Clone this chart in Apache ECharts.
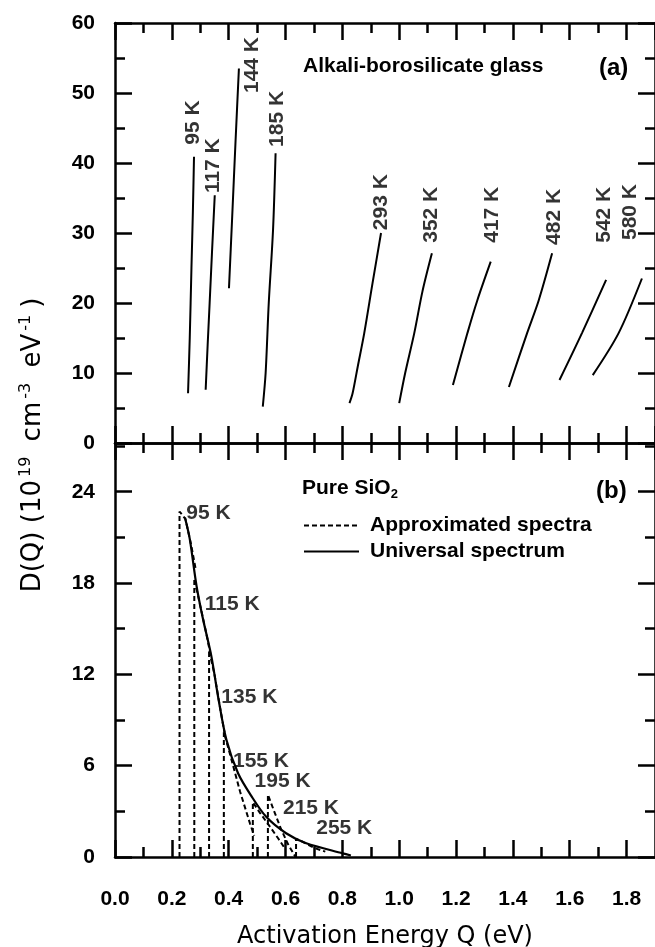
<!DOCTYPE html>
<html>
<head>
<meta charset="utf-8">
<script src="https://cdn.jsdelivr.net/npm/echarts@6/dist/echarts.min.js"></script>
<style>
  html, body { margin: 0; padding: 0; background: #fff; }
  #main { width: 655px; height: 947px; }
</style>
</head>
<body>
<div id="main"></div>
<script>
// ---- data ----
// panel (a): alkali-borosilicate glass, [Q (eV), D(Q)]
var tempsA = ['95 K', '117 K', '144 K', '185 K', '293 K', '352 K', '417 K', '482 K', '542 K', '580 K'];
var a95  = [[0.257, 7.1], [0.263, 15], [0.269, 25], [0.274, 33], [0.278, 40.9]];
var a117 = [[0.319, 7.6], [0.326, 14], [0.333, 20], [0.341, 27], [0.351, 35.4]];
var a144 = [[0.401, 22.1], [0.412, 32], [0.424, 43], [0.436, 53.5]];
var a185 = [[0.520, 5.2], [0.530, 10], [0.541, 20], [0.556, 30.4], [0.565, 41.4]];
var a293 = [[0.825, 5.7], [0.836, 7.1], [0.854, 10.9], [0.877, 15.7], [0.906, 22.8], [0.936, 30]];
var a352 = [[1.0, 5.7], [1.021, 10], [1.053, 15.7], [1.082, 21.7], [1.115, 27.1]];
var a417 = [[1.189, 8.3], [1.240, 15.7], [1.275, 20.4], [1.322, 25.9]];
var a482 = [[1.386, 8], [1.450, 15.7], [1.491, 20.4], [1.538, 27.1]];
var a542 = [[1.564, 9], [1.643, 15.7], [1.728, 23.3]];
var a580 = [[1.681, 9.7], [1.772, 15.7], [1.854, 23.5]];
var curvesA = [a95, a117, a144, a185, a293, a352, a417, a482, a542, a580];
// where each rotated temperature label starts
var labelAtA = [[0.274, 42.6], [0.344, 35.7], [0.484, 50], [0.572, 42.3], [0.936, 30.4],
                [1.111, 28.6], [1.327, 28.6], [1.544, 28.3], [1.723, 28.6], [1.813, 29]];

// panel (b): pure SiO2
var universal = [[0.246, 22.3], [0.263, 20.9], [0.287, 17.8], [0.310, 15.6], [0.339, 13.2],
                 [0.363, 10.5], [0.392, 7.7], [0.433, 5.5], [0.480, 4.0], [0.532, 2.64],
                 [0.602, 1.56], [0.673, 0.9], [0.801, 0.24], [0.83, 0.1]];
var tempsB = ['95 K', '115 K', '135 K', '155 K', '195 K', '215 K', '255 K'];
var b95  = [[0.227, 0], [0.227, 22.7], [0.248, 22.2], [0.268, 20.5], [0.283, 19.0]];
var b115 = [[0.279, 0], [0.279, 18.3], [0.300, 16.5], [0.320, 14.8], [0.335, 13.4]];
var b135 = [[0.331, 0], [0.331, 13.6], [0.350, 12.0], [0.368, 10.0], [0.385, 8.2]];
var b155 = [[0.383, 0], [0.383, 8.2], [0.404, 6.8], [0.440, 4.3], [0.475, 2.2], [0.49, 1.4]];
var b195 = [[0.485, 0], [0.485, 3.6], [0.51, 2.9], [0.545, 2.0], [0.575, 1.2], [0.60, 0.5]];
var b215 = [[0.538, 0], [0.538, 4.1], [0.558, 3.1], [0.585, 1.8], [0.610, 0.8], [0.635, 0]];
var b255 = [[0.637, 0], [0.637, 1.2], [0.66, 1.0], [0.70, 0.6], [0.74, 0.35]];
var approx = [b95, b115, b135, b155, b195, b215, b255];
var labelAtB = [[0.251, 22.6], [0.316, 16.6], [0.374, 10.5], [0.415, 6.3], [0.491, 4.95], [0.591, 3.2], [0.708, 1.9]];

// axis ranges / ticks
var qMax = 1.9, qStep = 0.2;
var aMax = 60, aStep = 10;
var bMax = 27.2, bStep = 6;

// ---- chart ----
var FONT = 'Liberation Sans';
var NAMEFONT = 'DejaVu Sans';
var chart = echarts.init(document.getElementById('main'));

function minorValues(max, step) {
  var out = [];
  for (var v = step / 2; v < max - 1e-6; v += step) out.push(Math.round(v * 1000) / 1000);
  return out;
}

// one major + one minor axis on a given side of a grid
function axisPair(grid, pos, max, step, withLabels, extra) {
  var major = {
    type: 'value', gridIndex: grid, position: pos, min: 0, max: max, interval: step,
    splitLine: { show: false },
    axisLine: { show: true, onZero: false, lineStyle: { color: '#000', width: 2.5 } },
    axisTick: { show: true, inside: true, length: 17, lineStyle: { color: '#000', width: 2.5 } },
    axisLabel: {
      show: withLabels, color: '#000', fontFamily: FONT, fontWeight: 'bold', fontSize: 21,
      formatter: function (v) { return pos === 'bottom' ? v.toFixed(1) : String(v); }
    }
  };
  if (extra) Object.assign(major, extra);
  var minor = {
    type: 'value', gridIndex: grid, position: pos, min: 0, max: max, interval: step / 2,
    splitLine: { show: false },
    axisLine: { show: false, onZero: false },
    axisTick: { show: true, inside: true, length: 10, customValues: minorValues(max, step),
                lineStyle: { color: '#000', width: 2.5 } },
    axisLabel: { show: false }
  };
  return [major, minor];
}

var xAxes = [].concat(
  axisPair(0, 'bottom', qMax, qStep, false),
  axisPair(0, 'top', qMax, qStep, false),
  axisPair(1, 'bottom', qMax, qStep, true, {
    name: 'Activation Energy Q (eV)', nameLocation: 'middle', nameGap: 68,
    nameTextStyle: { color: '#000', fontFamily: NAMEFONT, fontSize: 24 }
  }),
  axisPair(1, 'top', qMax, qStep, false)
);
xAxes[4].axisLabel.margin = 32;
var yAxes = [].concat(
  axisPair(0, 'left', aMax, aStep, true),
  axisPair(0, 'right', aMax, aStep, false),
  axisPair(1, 'left', bMax, bStep, true),
  axisPair(1, 'right', bMax, bStep, false)
);
yAxes[0].axisLabel.margin = 20;
yAxes[4].axisLabel.margin = 20;
yAxes[4].axisLabel.showMaxLabel = false;

var series = [];
curvesA.forEach(function (c, i) {
  series.push({
    type: 'line', name: tempsA[i], xAxisIndex: 0, yAxisIndex: 0, data: c,
    smooth: 0.3, showSymbol: false, symbol: 'none',
    itemStyle: { color: '#000' }, lineStyle: { color: '#000', width: 2 }, silent: true
  });
});
series.push({
  type: 'scatter', xAxisIndex: 0, yAxisIndex: 0, symbolSize: 0, silent: true,
  data: labelAtA.map(function (p, i) { return { value: p, name: tempsA[i] }; }),
  label: {
    show: true, position: 'inside', rotate: 90, align: 'left', verticalAlign: 'middle',
    formatter: '{b}', color: '#000', fontFamily: FONT, fontWeight: 'bold', fontSize: 21
  }
});
approx.forEach(function (c) {
  series.push({
    type: 'line', name: 'Approximated spectra', xAxisIndex: 4, yAxisIndex: 4, data: c,
    showSymbol: false, symbol: 'none', silent: true, itemStyle: { color: '#000' },
    lineStyle: { color: '#000', width: 2, type: [5, 3] }
  });
});
series.push({
  type: 'line', name: 'Universal spectrum', xAxisIndex: 4, yAxisIndex: 4, data: universal,
  smooth: 0.3, showSymbol: false, symbol: 'none', silent: true, z: 5,
  itemStyle: { color: '#000' }, lineStyle: { color: '#000', width: 2.2 }
});
series.push({
  type: 'scatter', xAxisIndex: 4, yAxisIndex: 4, symbolSize: 0, silent: true,
  data: labelAtB.map(function (p, i) { return { value: p, name: tempsB[i] }; }),
  label: {
    show: true, position: 'inside', align: 'left', verticalAlign: 'middle',
    formatter: '{b}', color: '#000', fontFamily: FONT, fontWeight: 'bold', fontSize: 21
  }
});

var txt = { fill: '#000', fontFamily: FONT, fontWeight: 'bold', fontSize: 21 };

chart.setOption({
  backgroundColor: '#fff',
  animation: false,
  grid: [
    { left: 115, top: 23, width: 540, height: 420, containLabel: false, outerBoundsMode: 'none' },
    { left: 115, top: 443, width: 540, height: 414, containLabel: false, outerBoundsMode: 'none' }
  ],
  xAxis: xAxes,
  yAxis: yAxes,
  legend: {
    left: 298, top: 510, orient: 'vertical', itemWidth: 55, itemHeight: 12, itemGap: 5,
    data: ['Approximated spectra', 'Universal spectrum'],
    itemStyle: { opacity: 0 },
    textStyle: { color: '#000', fontFamily: FONT, fontWeight: 'bold', fontSize: 21, padding: [0, 0, 0, 6] },
    selectedMode: false
  },
  graphic: [
    { type: 'text', left: 303, top: 56, style: Object.assign({ text: 'Alkali-borosilicate glass' }, txt) },
    { type: 'text', left: 599, top: 56, style: Object.assign({}, txt, { text: '(a)', fontSize: 24 }) },
    { type: 'text', left: 596, top: 479, style: Object.assign({}, txt, { text: '(b)', fontSize: 24 }) },
    { type: 'text', left: 302, top: 478, style: {
        text: '{b|Pure SiO}{s|2}', fill: '#000',
        rich: {
          b: { fontFamily: FONT, fontWeight: 'bold', fontSize: 21, lineHeight: 24 },
          s: { fontFamily: FONT, fontWeight: 'bold', fontSize: 13, verticalAlign: 'bottom' }
        } } },
    { type: 'text', x: 33, y: 445, rotation: Math.PI / 2, style: {
        text: '{b|D(Q) (10}{s|19}{b| cm}{s|-3}{b| eV}{s|-1}{b|)}', fill: '#000',
        align: 'center', verticalAlign: 'middle',
        rich: {
          b: { fontFamily: NAMEFONT, fontSize: 26, lineHeight: 30 },
          s: { fontFamily: NAMEFONT, fontSize: 16, verticalAlign: 'top', padding: [0, 7, 0, 3] }
        } } }
  ],
  series: series
});
</script>
</body>
</html>
